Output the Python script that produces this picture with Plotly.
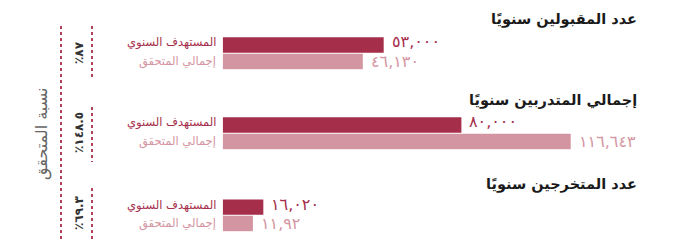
import plotly.graph_objects as go

# ---- data ----
group_titles = ["عدد المقبولين سنويًا", "إجمالي المتدربين سنويًا", "عدد المتخرجين سنويًا"]
series_names = ["المستهدف السنوي", "إجمالي المتحقق"]
target_values = [53000, 80000, 16020]
achieved_values = [46130, 116643, 11920]
target_labels = ["٥٣,٠٠٠", "٨٠,٠٠٠", "١٦,٠٢٠"]
achieved_labels = ["٤٦,١٣٠", "١١٦,٦٤٣", "١١,٩٢"]
ratio_labels = ["٪٨٧", "٪١٤٨.٥", "٪٦٩.٣"]
ratio_title = "نسبة المتحقق"

# ---- style ----
W, H = 678, 242
DARK = "#a52e4a"
PINK = "#d495a2"
DOT = "#b5405a"
FONT = "DejaVu Sans"

def px_x(p):
    return p / W

def px_y(p):
    return (H - p) / H

x_ranges = [149900, 152600, 179500]
bar_tops = [36.7, 116.7, 199.0]
bar_bots = [69.7, 149.7, 231.7]
title_y = [20, 100.5, 184]
ratio_y = [53, 133, 213]
seg_y = [(26, 80), (107, 162), (188, 242)]
x0_px = 222.7

cats = ["target", "achieved"]
fig = go.Figure()
annotations = []
shapes = []

for i in range(3):
    sfx = "" if i == 0 else str(i + 1)
    fig.add_trace(go.Bar(
        x=[target_values[i], achieved_values[i]],
        y=cats,
        orientation="h",
        width=0.94,
        marker=dict(color=[DARK, PINK], line=dict(width=0)),
        xaxis="x" + sfx, yaxis="y" + sfx,
        hoverinfo="skip", showlegend=False,
    ))
    fig.layout["xaxis" + sfx] = dict(
        domain=[px_x(x0_px), 1], range=[0, x_ranges[i]], visible=False,
        anchor="y" + sfx, fixedrange=True)
    fig.layout["yaxis" + sfx] = dict(
        domain=[px_y(bar_bots[i]), px_y(bar_tops[i])], type="category",
        categoryorder="array", categoryarray=cats, range=[1.5, -0.5],
        autorange=False, visible=False, anchor="x" + sfx, fixedrange=True)

    xr = "x" + sfx
    yr = "y" + sfx
    # value labels
    annotations.append(dict(x=target_values[i], y="target", xref=xr, yref=yr,
                            text=target_labels[i], showarrow=False, xanchor="left",
                            yanchor="middle", xshift=6, yshift=3,
                            font=dict(family=FONT, size=16, color=DARK)))
    annotations.append(dict(x=achieved_values[i], y="achieved", xref=xr, yref=yr,
                            text=achieved_labels[i], showarrow=False, xanchor="left",
                            yanchor="middle", xshift=6, yshift=0,
                            font=dict(family=FONT, size=16, color=PINK)))
    # series names on the left of bars
    annotations.append(dict(x=px_x(218), y="target", xref="paper", yref=yr,
                            text=series_names[0], showarrow=False, xanchor="right",
                            yanchor="middle", yshift=2,
                            font=dict(family=FONT, size=11.5, color=DARK)))
    annotations.append(dict(x=px_x(218), y="achieved", xref="paper", yref=yr,
                            text=series_names[1], showarrow=False, xanchor="right",
                            yanchor="middle", yshift=0,
                            font=dict(family=FONT, size=11.5, color=PINK)))
    # group title
    annotations.append(dict(x=px_x(639), y=px_y(title_y[i]), xref="paper", yref="paper",
                            text="<b>" + group_titles[i] + "</b>", showarrow=False,
                            xanchor="right", yanchor="middle",
                            font=dict(family=FONT, size=14.5, color="#1a1a1a")))
    # ratio label (rotated)
    annotations.append(dict(x=px_x(79), y=px_y(ratio_y[i]), xref="paper", yref="paper",
                            text="<b>" + ratio_labels[i] + "</b>", showarrow=False,
                            textangle=-90, xanchor="center", yanchor="middle",
                            font=dict(family=FONT, size=12, color="#333333")))
    # dotted segment
    shapes.append(dict(type="line", xref="paper", yref="paper",
                       x0=px_x(92), x1=px_x(92), y0=px_y(seg_y[i][0]), y1=px_y(seg_y[i][1]),
                       line=dict(color=DOT, width=2, dash="dot")))

# long dotted line and rotated title
shapes.append(dict(type="line", xref="paper", yref="paper",
                   x0=px_x(61), x1=px_x(61), y0=px_y(26), y1=px_y(242),
                   line=dict(color=DOT, width=2, dash="dot")))
annotations.append(dict(x=px_x(42), y=px_y(134), xref="paper", yref="paper",
                        text=ratio_title, showarrow=False, textangle=-90,
                        xanchor="center", yanchor="middle",
                        font=dict(family=FONT, size=16, color="#666666")))

fig.update_layout(
    width=W, height=H,
    margin=dict(l=0, r=0, t=0, b=0),
    paper_bgcolor="white", plot_bgcolor="white",
    annotations=annotations, shapes=shapes,
    showlegend=False,
)

fig.write_html("out.html", config={"displayModeBar": False},
               post_script="document.body.style.margin='0';document.body.style.overflow='hidden';")
